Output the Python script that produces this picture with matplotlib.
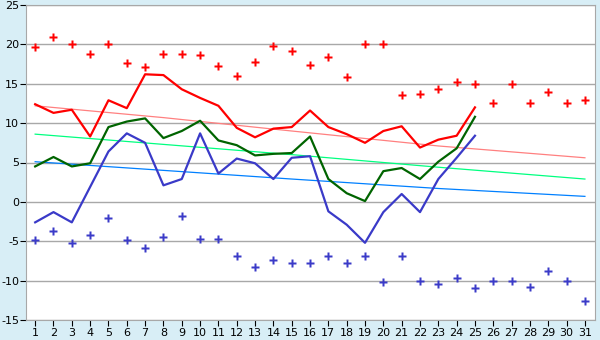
import numpy as np
import matplotlib
matplotlib.use("Agg")
import matplotlib.pyplot as plt

plt.rcParams["axes.unicode_minus"] = False

# days of the month
days = np.arange(1, 32)
days_obs = np.arange(1, 26)

# observed daily values
t_max = [12.4, 11.3, 11.7, 8.3, 12.9, 11.9, 16.2, 16.1, 14.3, 13.2, 12.2, 9.4, 8.2,
         9.3, 9.5, 11.6, 9.5, 8.6, 7.5, 9.0, 9.6, 6.9, 7.9, 8.4, 12.0]
t_mean = [4.5, 5.7, 4.5, 4.9, 9.5, 10.2, 10.6, 8.1, 9.0, 10.3, 7.8, 7.2, 5.9,
          6.1, 6.2, 8.3, 2.9, 1.1, 0.1, 3.9, 4.3, 2.9, 5.1, 6.8, 10.8]
t_min = [-2.6, -1.3, -2.6, 1.9, 6.4, 8.7, 7.5, 2.1, 2.9, 8.7, 3.6, 5.5, 4.9,
         2.9, 5.6, 5.8, -1.2, -2.9, -5.2, -1.3, 1.0, -1.3, 2.9, 5.6, 8.4]

# record values
rec_max = [19.7, 21.0, 20.1, 18.8, 20.0, 17.6, 17.1, 18.8, 18.8, 18.6, 17.2, 16.0,
           17.7, 19.8, 19.1, 17.4, 18.4, 15.9, 20.0, 20.0, 13.6, 13.7, 14.3, 15.2,
           15.0, 12.6, 15.0, 12.6, 13.9, 12.5, 13.0]
rec_min = [-4.8, -3.7, -5.2, -4.2, -2.1, -4.9, -5.9, -4.5, -1.8, -4.7, -4.7, -6.9,
           -8.3, -7.4, -7.8, -7.8, -6.9, -7.8, -6.9, -10.2, -6.9, -10.0, -10.4, -9.7,
           -10.9, -10.0, -10.0, -10.8, -8.8, -10.0, -12.6]

# normals (read at a few days)
norm_days = [1, 8, 15, 23, 31]
norm_max = [12.2, 10.7, 9.0, 7.1, 5.6]
norm_mean = [8.6, 7.3, 6.0, 4.4, 2.9]
norm_min = [5.1, 4.0, 2.9, 1.7, 0.7]

bg = "#d8eef6"
fig = plt.figure(figsize=(6, 3.4), dpi=100, facecolor=bg)
ax = fig.add_axes([26 / 600, 1 - 320 / 340, 569 / 600, 315 / 340])
ax.set_facecolor("white")

ax.plot(norm_days, norm_max, color="#ff8080", lw=0.9, zorder=2)
ax.plot(norm_days, norm_mean, color="#00ff80", lw=0.9, zorder=2)
ax.plot(norm_days, norm_min, color="#0080ff", lw=0.9, zorder=2)

ax.plot(days_obs, t_max, color="#ff0000", lw=1.6, zorder=3)
ax.plot(days_obs, t_mean, color="#006400", lw=1.6, zorder=3)
ax.plot(days_obs, t_min, color="#3a3ac8", lw=1.6, zorder=3)

ax.plot(days, rec_max, ls="none", marker="P", ms=5.5, color="#ff0000", mec="none", zorder=4)
ax.plot(days, rec_min, ls="none", marker="P", ms=5.5, color="#3a3ac8", mec="none", zorder=4)

ax.set_xlim(0.5, 31.55)
ax.set_ylim(-15, 25)
ax.set_xticks(days)
ax.set_yticks(np.arange(-15, 26, 5))
ax.yaxis.grid(True, color="#a8a8a8", lw=1)
ax.set_axisbelow(True)
for s in ax.spines.values():
    s.set_color("#a8a8a8")
ax.tick_params(axis="both", labelsize=8, colors="black", length=4, width=0.8)
ax.tick_params(axis="x", pad=2)
ax.tick_params(axis="y", pad=1)

fig.savefig("out.png", dpi=100, facecolor=bg)
